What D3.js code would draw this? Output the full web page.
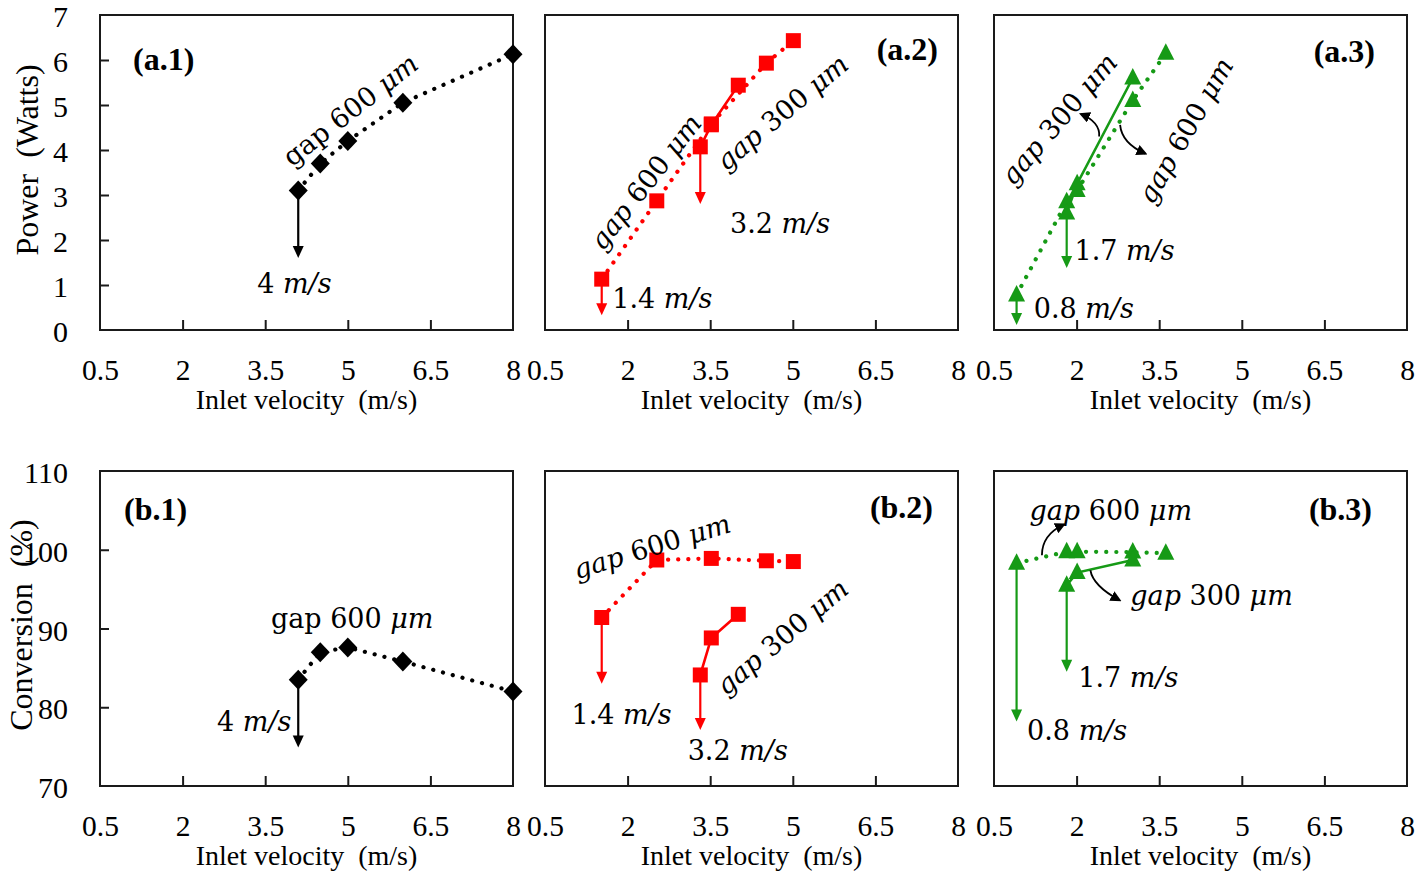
<!DOCTYPE html>
<html>
<head>
<meta charset="utf-8">
<script src="https://cdn.jsdelivr.net/npm/d3@7/dist/d3.min.js"></script>
<style>
  html, body { margin: 0; padding: 0; background: #fff; }
  svg { display: block; }
  text { white-space: pre; }
</style>
</head>
<body>
<svg id="chart" width="1418" height="875"></svg>
<script>
// ---------------- DATA ----------------
const xTickValues = [0.5, 2, 3.5, 5, 6.5, 8];
const xTickLabels = ["0.5", "2", "3.5", "5", "6.5", "8"];
const powerTicks = [0, 1, 2, 3, 4, 5, 6, 7];
const convTicks = [70, 80, 90, 100, 110];

// Panel 1 (black, gap 600 µm only)
const v600_p1 = [4.1, 4.5, 5.0, 6.0, 8.0];
const power600_p1 = [3.1, 3.7, 4.2, 5.05, 6.13];
const conv600_p1 = [83.5, 87.0, 87.6, 85.8, 82.0];

// Panel 2 (red)
const v600_p2 = [1.53, 2.53, 3.52, 4.52, 5.01];
const power600_p2 = [1.13, 2.87, 4.58, 5.93, 6.43];
const conv600_p2 = [91.4, 98.7, 98.9, 98.6, 98.5];
const v300_p2 = [3.32, 3.52, 4.01];
const power300_p2 = [4.07, 4.56, 5.44];
const conv300_p2 = [84.1, 88.8, 91.8];

// Panel 3 (green)
const v600_p3 = [0.91, 1.82, 2.01, 3.02, 3.62];
const power600_p3 = [0.78, 2.85, 3.1, 5.1, 6.15];
const conv600_p3 = [98.3, 99.75, 99.75, 99.7, 99.55];
const v300_p3 = [1.82, 2.01, 3.02];
const power300_p3 = [2.6, 3.25, 5.6];
const conv300_p3 = [95.5, 97.1, 98.7];

// Onset-velocity arrows: [x, from, to]
const arrowsPower = [
  [[4.1, 3.1, 1.6]],
  [[1.53, 1.13, 0.33], [3.32, 4.07, 2.8]],
  [[0.91, 0.78, 0.11], [1.82, 2.6, 1.38]]
];
const arrowsConv = [
  [[4.1, 83.5, 74.9]],
  [[1.53, 91.4, 83.0], [3.32, 84.1, 77.1]],
  [[0.91, 98.3, 78.2], [1.82, 95.5, 84.5]]
];

// ---------------- LAYOUT ----------------
const colLeft = [100, 545, 994];
const panelW = 413;
const rows = [{ top: 15, bottom: 330 }, { top: 471, bottom: 786 }];
const colors = ["#000000", "#ff0000", "#169a16"];
const markers = ["diamond", "square", "triangle"];

const svg = d3.select("#chart");
const serif = "'Liberation Serif', 'Times New Roman', serif";
const mathFont = "'DejaVu Serif', serif";

function markerPath(type) {
  if (type === "diamond") return "M0,-10L9.5,0L0,10L-9.5,0Z";
  if (type === "square") return "M-7.5,-7.5H7.5V7.5H-7.5Z";
  return "M0,-10L8.5,6.5H-8.5Z";
}

function seg(t, italic) { return { t, italic: !!italic }; }
function gapLabel(num, gapItalic) {
  return [seg("gap", gapItalic), seg(" " + num + " "), seg("μm", true)];
}
function velLabel(v) { return [seg(v + " "), seg("m/s", true)]; }

// annotation text per panel: {segs, x, y, angle} in data units
const annotPower = [
  [
    { segs: gapLabel("600", false), x: 5.04, y: 4.9, angle: -38 },
    { segs: velLabel("4"), x: 4.03, y: 1.04, angle: 0 }
  ],
  [
    { segs: gapLabel("600", true), x: 2.32, y: 3.3, angle: -52 },
    { segs: gapLabel("300", true), x: 4.8, y: 4.85, angle: -40 },
    { segs: velLabel("1.4"), x: 2.63, y: 0.71, angle: 0 },
    { segs: velLabel("3.2"), x: 4.77, y: 2.38, angle: 0 }
  ],
  [
    { segs: gapLabel("300", true), x: 1.67, y: 4.7, angle: -49.5 },
    { segs: gapLabel("600", true), x: 3.97, y: 4.44, angle: -60 },
    { segs: velLabel("1.7"), x: 2.87, y: 1.78, angle: 0 },
    { segs: velLabel("0.8"), x: 2.13, y: 0.49, angle: 0 }
  ]
];
const annotConv = [
  [
    { segs: gapLabel("600", false), x: 5.08, y: 91.3, angle: 0 },
    { segs: velLabel("4"), x: 3.3, y: 78.2, angle: 0 }
  ],
  [
    { segs: gapLabel("600", true), x: 2.44, y: 100.5, angle: -17 },
    { segs: gapLabel("300", true), x: 4.8, y: 89.0, angle: -40 },
    { segs: velLabel("1.4"), x: 1.89, y: 79.2, angle: 0 },
    { segs: velLabel("3.2"), x: 4.0, y: 74.6, angle: 0 }
  ],
  [
    { segs: gapLabel("600", true), x: 2.62, y: 105.0, angle: 0 },
    { segs: gapLabel("300", true), x: 4.45, y: 94.3, angle: 0 },
    { segs: velLabel("1.7"), x: 2.94, y: 83.9, angle: 0 },
    { segs: velLabel("0.8"), x: 2.01, y: 77.1, angle: 0 }
  ]
];
// curved pointer arrows (data units): start, control, end
const curvesPower = [[], [], [
  { s: [2.41, 4.30], c: [2.43, 4.62], e: [2.08, 4.8] },
  { s: [2.79, 4.56], c: [2.82, 4.15], e: [3.25, 3.92] }
]];
const curvesConv = [[], [], [
  { s: [1.37, 99.3], c: [1.37, 101.9], e: [1.77, 103.2] },
  { s: [2.25, 97.4], c: [2.3, 95.4], e: [2.78, 93.6] }
]];

const panelLabels = [
  ["(a.1)", "(a.2)", "(a.3)"],
  ["(b.1)", "(b.2)", "(b.3)"]
];
// [x offset, y offset, anchor]
const labelPos = [
  [[33, 44, "start"], [-20, 34, "end"], [-32, 36, "end"]],
  [[24, 38, "start"], [-25, 36, "end"], [-35, 38, "end"]]
];

svg.append("defs").append("marker")
  .attr("id", "ah").attr("viewBox", "0 0 10 10").attr("refX", 8).attr("refY", 5)
  .attr("markerWidth", 11).attr("markerHeight", 11).attr("markerUnits", "userSpaceOnUse")
  .attr("orient", "auto")
  .append("path").attr("d", "M0,0L10,5L0,10Z").attr("fill", "#000");

function drawPanel(row, col) {
  const left = colLeft[col], right = left + panelW;
  const { top, bottom } = rows[row];
  const x = d3.scaleLinear().domain([0.5, 8]).range([left, right]);
  const y = row === 0
    ? d3.scaleLinear().domain([0, 7]).range([bottom, top])
    : d3.scaleLinear().domain([70, 110]).range([bottom, top]);
  const g = svg.append("g");
  const color = colors[col];

  g.append("rect").attr("x", left).attr("y", top).attr("width", panelW).attr("height", bottom - top)
    .attr("fill", "none").attr("stroke", "#1a1a1a").attr("stroke-width", 2);

  const xInner = g.append("g").attr("transform", `translate(0,${bottom})`)
    .call(d3.axisBottom(x).tickValues(xTickValues.slice(1, -1)).tickSize(-10).tickFormat(""));
  xInner.select(".domain").remove();
  xInner.selectAll("line").attr("stroke", "#1a1a1a").attr("stroke-width", 2);

  const xLab = g.append("g").attr("transform", `translate(0,${bottom})`)
    .call(d3.axisBottom(x).tickValues(xTickValues).tickSize(0)
      .tickFormat((d, i) => xTickLabels[i]));
  xLab.select(".domain").remove();
  xLab.selectAll("text").attr("y", 50).attr("dy", null)
    .attr("font-family", serif).attr("font-size", 29.5).attr("fill", "#000");

  g.append("text").attr("x", (left + right) / 2).attr("y", bottom + 79)
    .attr("text-anchor", "middle").attr("font-family", serif).attr("font-size", 28)
    .text("Inlet velocity  (m/s)");

  if (col === 0) {
    const ticks = row === 0 ? powerTicks : convTicks;
    const yInner = g.append("g").attr("transform", `translate(${left},0)`)
      .call(d3.axisLeft(y).tickValues(ticks.slice(1, -1)).tickSize(-9).tickFormat(""));
    yInner.select(".domain").remove();
    yInner.selectAll("line").attr("stroke", "#1a1a1a").attr("stroke-width", 2);
    const yLab = g.append("g").attr("transform", `translate(${left},0)`)
      .call(d3.axisLeft(y).tickValues(ticks).tickSize(0).tickPadding(32).tickFormat(d3.format("d")));
    yLab.select(".domain").remove();
    yLab.selectAll("text").attr("dy", "0.39em")
      .attr("font-family", serif).attr("font-size", 30).attr("fill", "#000");
    const cy = row === 0 ? 160 : 625;
    const cx = row === 0 ? 27 : 21;
    g.append("text").attr("transform", `translate(${cx},${cy}) rotate(-90)`)
      .attr("text-anchor", "middle").attr("dominant-baseline", "central")
      .attr("font-family", serif).attr("font-size", 32)
      .text(row === 0 ? "Power  (Watts)" : "Conversion  (%)");
  }

  const sets = [];
  if (col === 0) {
    sets.push({ v: v600_p1, val: row === 0 ? power600_p1 : conv600_p1, dotted: true });
  } else if (col === 1) {
    sets.push({ v: v600_p2, val: row === 0 ? power600_p2 : conv600_p2, dotted: true });
    sets.push({ v: v300_p2, val: row === 0 ? power300_p2 : conv300_p2, dotted: false });
  } else {
    sets.push({ v: v600_p3, val: row === 0 ? power600_p3 : conv600_p3, dotted: true });
    sets.push({ v: v300_p3, val: row === 0 ? power300_p3 : conv300_p3, dotted: false });
  }

  const line = d3.line().x(d => x(d[0])).y(d => y(d[1]));
  sets.forEach(s => {
    const pts = s.v.map((v, i) => [v, s.val[i]]);
    g.append("path").attr("d", line(pts)).attr("fill", "none").attr("stroke", color)
      .attr("stroke-width", s.dotted ? 4.2 : 2.6)
      .attr("stroke-linecap", "round")
      .attr("stroke-dasharray", s.dotted ? "0.1 10" : null);
  });

  const arrs = (row === 0 ? arrowsPower : arrowsConv)[col];
  arrs.forEach(a => {
    const ax = x(a[0]), y0 = y(a[1]), y1 = y(a[2]);
    g.append("line").attr("x1", ax).attr("x2", ax).attr("y1", y0).attr("y2", y1 - 10)
      .attr("stroke", color).attr("stroke-width", 2.2);
    g.append("path").attr("d", `M${ax - 5.5},${y1 - 12}L${ax + 5.5},${y1 - 12}L${ax},${y1}Z`)
      .attr("fill", color);
  });

  sets.forEach(s => {
    g.selectAll(null).data(s.v.map((v, i) => [v, s.val[i]])).enter().append("path")
      .attr("d", markerPath(markers[col]))
      .attr("transform", d => `translate(${x(d[0])},${y(d[1])})`)
      .attr("fill", color);
  });

  const curves = (row === 0 ? curvesPower : curvesConv)[col];
  curves.forEach(c => {
    g.append("path")
      .attr("d", `M${x(c.s[0])},${y(c.s[1])}Q${x(c.c[0])},${y(c.c[1])} ${x(c.e[0])},${y(c.e[1])}`)
      .attr("fill", "none").attr("stroke", "#000").attr("stroke-width", 1.8)
      .attr("marker-end", "url(#ah)");
  });

  const ann = (row === 0 ? annotPower : annotConv)[col];
  ann.forEach(a => {
    const t = g.append("text")
      .attr("transform", `translate(${x(a.x)},${y(a.y)}) rotate(${a.angle})`)
      .attr("text-anchor", "middle").attr("dominant-baseline", "central")
      .attr("font-family", mathFont).attr("font-size", 27).attr("fill", "#000");
    a.segs.forEach(s => {
      t.append("tspan").attr("font-style", s.italic ? "italic" : "normal").text(s.t);
    });
  });

  const lp = labelPos[row][col];
  g.append("text")
    .attr("x", lp[2] === "start" ? left + lp[0] : right + lp[0])
    .attr("y", top + lp[1])
    .attr("text-anchor", lp[2]).attr("dominant-baseline", "central")
    .attr("font-family", serif).attr("font-weight", "bold").attr("font-size", 32)
    .text(panelLabels[row][col]);
}

for (let r = 0; r < 2; r++) for (let c = 0; c < 3; c++) drawPanel(r, c);
</script>
</body>
</html>
